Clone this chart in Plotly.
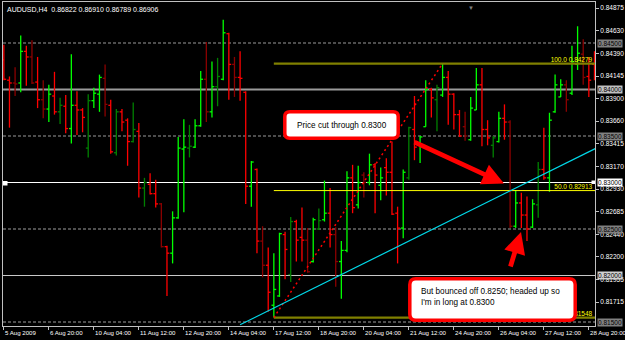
import plotly.graph_objects as go

# ---------------- data ----------------
bar_index = list(range(106))

open_ = [0.8432, 0.8410, 0.8407, 0.8407, 0.8441, 0.8435, 0.8408, 0.8389, 0.8379, 0.8393,
         0.8376, 0.8382, 0.8358, 0.8383, 0.8378, 0.8337, 0.8388, 0.8395, 0.8412, 0.8383,
         0.8332, 0.8376, 0.8367, 0.8344, 0.8355, 0.8294, 0.8298, 0.8288, 0.8277, 0.8231,
         0.8224, 0.8262, 0.8336, 0.8337, 0.8338, 0.8361, 0.8411, 0.8376, 0.8403, 0.8411,
         0.8460, 0.8427, 0.8413, 0.8397, 0.8296, 0.8314, 0.8237, 0.8211, 0.8168, 0.8178,
         0.8244, 0.8201, 0.8258, 0.8241, 0.8238, 0.8215, 0.8250, 0.8260, 0.8267, 0.8244,
         0.8215, 0.8227, 0.8305, 0.8276, 0.8308, 0.8300, 0.8319, 0.8297, 0.8316, 0.8311,
         0.8267, 0.8251, 0.8305, 0.8357, 0.8340, 0.8360, 0.8400, 0.8389, 0.8394, 0.8413,
         0.8395, 0.8373, 0.8360, 0.8346, 0.8378, 0.8405, 0.8357, 0.8340, 0.8344, 0.8369,
         0.8365, 0.8253, 0.8278, 0.8265, 0.8252, 0.8276, 0.8314, 0.8305, 0.8376, 0.8392,
         0.8405, 0.8396, 0.8427, 0.8438, 0.8414, 0.8427]

high = [0.8448, 0.8414, 0.8424, 0.8458, 0.8447, 0.8453, 0.8435, 0.8410, 0.8405, 0.8419,
        0.8391, 0.8394, 0.8438, 0.8398, 0.8380, 0.8395, 0.8402, 0.8416, 0.8427, 0.8389,
        0.8379, 0.8379, 0.8369, 0.8386, 0.8364, 0.8305, 0.8310, 0.8303, 0.8278, 0.8232,
        0.8269, 0.8349, 0.8368, 0.8362, 0.8368, 0.8420, 0.8451, 0.8430, 0.8434, 0.8475,
        0.8461, 0.8435, 0.8441, 0.8398, 0.8323, 0.8315, 0.8253, 0.8230, 0.8224, 0.8246,
        0.8247, 0.8263, 0.8260, 0.8273, 0.8251, 0.8262, 0.8272, 0.8302, 0.8294, 0.8252,
        0.8237, 0.8312, 0.8319, 0.8318, 0.8311, 0.8331, 0.8321, 0.8316, 0.8326, 0.8344,
        0.8274, 0.8314, 0.8360, 0.8393, 0.8350, 0.8410, 0.8402, 0.8405, 0.84279, 0.8420,
        0.8396, 0.8378, 0.8376, 0.8392, 0.8423, 0.8423, 0.8367, 0.8350, 0.8376, 0.8384,
        0.8367, 0.8292, 0.8289, 0.8285, 0.8282, 0.8322, 0.8359, 0.8375, 0.8416, 0.8411,
        0.8410, 0.8447, 0.8468, 0.8454, 0.8435, 0.8441]

low = [0.8410, 0.8359, 0.8393, 0.8397, 0.8404, 0.8406, 0.8380, 0.8369, 0.8365, 0.8373,
       0.8363, 0.8353, 0.8342, 0.8351, 0.8354, 0.8327, 0.8380, 0.8376, 0.8371, 0.8331,
       0.8329, 0.8355, 0.8318, 0.8343, 0.8284, 0.8274, 0.8287, 0.8273, 0.8230, 0.8178,
       0.8213, 0.8261, 0.8268, 0.8327, 0.8337, 0.8360, 0.8365, 0.8370, 0.8382, 0.8410,
       0.8389, 0.8392, 0.8388, 0.8277, 0.8274, 0.8224, 0.8198, 0.8161, 0.81548, 0.8177,
       0.8196, 0.8193, 0.8215, 0.8215, 0.8203, 0.8214, 0.8249, 0.8258, 0.8230, 0.8188,
       0.8175, 0.8225, 0.8267, 0.8272, 0.8284, 0.8297, 0.8267, 0.8281, 0.8286, 0.8265,
       0.8213, 0.8240, 0.8303, 0.8324, 0.8321, 0.8360, 0.8370, 0.8355, 0.8392, 0.8362,
       0.8357, 0.8349, 0.8345, 0.8345, 0.8378, 0.8339, 0.8340, 0.8327, 0.8343, 0.8346,
       0.8251, 0.8251, 0.8251, 0.8237, 0.8251, 0.8262, 0.8303, 0.8290, 0.8375, 0.8392,
       0.8376, 0.8394, 0.8421, 0.8405, 0.8392, 0.8410]

close = [0.8411, 0.8407, 0.8406, 0.8441, 0.8435, 0.8407, 0.8389, 0.8379, 0.8395, 0.8376,
         0.8383, 0.8358, 0.8383, 0.8378, 0.8370, 0.8388, 0.8396, 0.8413, 0.8384, 0.8333,
         0.8376, 0.8365, 0.8344, 0.8357, 0.8294, 0.8300, 0.8288, 0.8277, 0.8231, 0.8224,
         0.8262, 0.8337, 0.8338, 0.8339, 0.8361, 0.8411, 0.8376, 0.8403, 0.8414, 0.8461,
         0.8427, 0.8413, 0.8412, 0.8296, 0.8322, 0.8237, 0.8211, 0.8182, 0.8185, 0.8245,
         0.8228, 0.8258, 0.8238, 0.8238, 0.8204, 0.8260, 0.8259, 0.8267, 0.8244, 0.8215,
         0.8227, 0.8305, 0.8273, 0.8300, 0.8300, 0.8319, 0.8308, 0.8305, 0.8311, 0.8266,
         0.8251, 0.8311, 0.8359, 0.8338, 0.8349, 0.8400, 0.8391, 0.8402, 0.8413, 0.8395,
         0.8373, 0.8350, 0.8350, 0.8380, 0.8405, 0.8357, 0.8348, 0.8348, 0.8369, 0.8365,
         0.8253, 0.8278, 0.8265, 0.8250, 0.8277, 0.8314, 0.8305, 0.8367, 0.8405, 0.8405,
         0.8389, 0.8430, 0.8439, 0.8413, 0.8410, 0.8416]

# bars drawn in the darker shade on the reference chart
dim_bars = [2, 5, 7, 10, 15, 18, 20, 23, 25, 28, 33, 36, 38, 41, 46, 51, 54, 56, 59,
            64, 72, 77, 82, 87, 90, 95, 100, 103]

x_tick_bars = [0, 8, 16, 24, 32, 40, 48, 56, 64, 72, 80, 88, 96, 104]
x_tick_labels = ["5 Aug 2009", "6 Aug 20:00", "10 Aug 04:00", "11 Aug 12:00", "12 Aug 20:00",
                 "14 Aug 04:00", "17 Aug 12:00", "18 Aug 20:00", "20 Aug 04:00", "21 Aug 12:00",
                 "24 Aug 20:00", "26 Aug 04:00", "27 Aug 12:00", "28 Aug 20:00"]

y_tick_values = [0.84875, 0.84630, 0.84390, 0.84145, 0.83900, 0.83660, 0.83415, 0.83170,
                 0.82930, 0.82685, 0.82440, 0.82200, 0.81955, 0.81715]

levels = [0.845, 0.840, 0.835, 0.830, 0.825, 0.820, 0.815]

fib_pcts = [100.0, 50.0, 0.0]
fib_prices = [0.84279, 0.82913, 0.81548]
fib_start_bar = 48
fib_high_bar = 78

trend_bars = [42, 106]
trend_prices = [0.8147, 0.8339]

title_text = "AUDUSD,H4  0.86822 0.86910 0.86789 0.86906"
note1 = "Price cut through 0.8300"
note2 = "But bounced off 0.8250; headed up so<br>I'm in long at 0.8300"

# ---------------- layout helpers ----------------
W, H = 625, 340
ML, MR, MT, MB = 3, 30, 2, 14
PW, PH = W - ML - MR, H - MT - MB
FONT = "Liberation Sans"


def px(x):
    return (x - ML) / PW


def py(y):
    return (MT + PH - y) / PH


def rrect(l, t, r, b, rad):
    x0, x1 = px(l), px(r)
    y0, y1 = py(b), py(t)
    rx, ry = rad / PW, rad / PH
    return (f"M{x0+rx},{y1} L{x1-rx},{y1} Q{x1},{y1} {x1},{y1-ry} "
            f"L{x1},{y0+ry} Q{x1},{y0} {x1-rx},{y0} L{x0+rx},{y0} "
            f"Q{x0},{y0} {x0},{y0+ry} L{x0},{y1-ry} Q{x0},{y1} {x0+rx},{y1} Z")


fig = go.Figure()

# ---------------- OHLC bars ----------------
tw = 0.42


def ohlc_segments(idx):
    xs, ys = [], []
    for i in idx:
        x = bar_index[i]
        xs += [x, x, None, x - tw, x, None, x, x + tw, None]
        ys += [low[i], high[i], None, open_[i], open_[i], None, close[i], close[i], None]
    return xs, ys


groups = {
    ("up", False): "#00ff00",
    ("down", False): "#ff0000",
    ("up", True): "#008000",
    ("down", True): "#8b0000",
}
for (direction, dim), color in groups.items():
    idx = [i for i in range(len(bar_index))
           if ((close[i] >= open_[i]) == (direction == "up")) and ((i in dim_bars) == dim)]
    xs, ys = ohlc_segments(idx)
    fig.add_trace(go.Scatter(x=xs, y=ys, mode="lines", line=dict(color=color, width=1.3),
                             hoverinfo="skip", showlegend=False, connectgaps=False))

# ---------------- fibonacci ----------------
x_end = 106
for pct, price in zip(fib_pcts, fib_prices):
    if pct == 50.0:
        col, wid = "#ffff00", 1
    else:
        col, wid = "#808000", 2.2
    fig.add_trace(go.Scatter(x=[fib_start_bar, x_end], y=[price, price], mode="lines",
                             line=dict(color=col, width=wid), hoverinfo="skip", showlegend=False))
fig.add_trace(go.Scatter(
    x=[104.6] * len(fib_prices), y=fib_prices, mode="text",
    text=[f"{p:.1f} {v:.5f}" for p, v in zip(fib_pcts, fib_prices)],
    textposition="top left", textfont=dict(family=FONT, size=6.5, color="#ffff00"),
    hoverinfo="skip", showlegend=False))
fig.add_trace(go.Scatter(
    x=[fib_start_bar, fib_high_bar], y=[low[fib_start_bar], high[fib_high_bar]], mode="lines",
    line=dict(color="#ff0000", width=1.5, dash="2px,3px"), hoverinfo="skip", showlegend=False))

# ---------------- trendline ----------------
fig.add_trace(go.Scatter(x=trend_bars, y=trend_prices, mode="lines",
                         line=dict(color="#00d8e8", width=1.2), hoverinfo="skip", showlegend=False))

# ---------------- horizontal levels ----------------
level_style = {
    0.845: ("#9a9a9a", 1, "3px,2px", "#808080"),
    0.840: ("#9a9a9a", 2.2, "solid", "#c0c0c0"),
    0.835: ("#9a9a9a", 1, "3px,2px", "#808080"),
    0.830: ("#ffffff", 1.2, "solid", "#ffffff"),
    0.825: ("#6a6a6a", 1.3, "3px,2px", "#808080"),
    0.820: ("#c8c8c8", 1.2, "solid", "#d0d0d0"),
    0.815: ("#6a6a6a", 1.3, "3px,2px", "#808080"),
}
shapes = []
annotations = []
for lv in levels:
    col, wid, dash, box = level_style[lv]
    shapes.append(dict(type="line", xref="paper", x0=0, x1=1, yref="y", y0=lv, y1=lv,
                       line=dict(color=col, width=wid, dash=dash), layer="below"))
    annotations.append(dict(xref="paper", x=1, xanchor="left", xshift=2, yref="y", y=lv,
                            yanchor="middle", text=f"{lv:.5f}", showarrow=False,
                            bgcolor=box, borderpad=0,
                            font=dict(family=FONT, size=6.5, color="#000000")))

# selection handles on the 0.8300 line
shapes.append(dict(type="rect", xref="paper", yref="paper", x0=px(3), x1=px(7.5),
                   y0=py(185.5), y1=py(181), fillcolor="#ffffff", line=dict(width=0)))
shapes.append(dict(type="rect", xref="paper", yref="paper", x0=px(591.5), x1=px(595),
                   y0=py(184), y1=py(180.5), fillcolor="#ffffff", line=dict(width=0)))

# note boxes
shapes.append(dict(type="path", xref="paper", yref="paper", path=rrect(284.8, 111.8, 398.2, 138.2, 5),
                   fillcolor="#ffffff", line=dict(color="#ff0000", width=3.5), layer="above"))
shapes.append(dict(type="path", xref="paper", yref="paper", path=rrect(409.8, 278.8, 575.2, 320.2, 6),
                   fillcolor="#ffffff", line=dict(color="#ff0000", width=3.5), layer="above"))

annotations.append(dict(xref="paper", yref="paper", x=px(341.5), y=py(125), text=note1,
                        showarrow=False, xanchor="center", yanchor="middle",
                        font=dict(family=FONT, size=8.2, color="#000000")))
annotations.append(dict(xref="paper", yref="paper", x=px(419), y=py(296.5), text=note2,
                        showarrow=False, xanchor="left", yanchor="middle", align="left",
                        font=dict(family=FONT, size=8.2, color="#000000")))

# arrows
annotations.append(dict(xref="paper", yref="paper", x=px(504), y=py(183.5), text="",
                        showarrow=True, ax=-91, ay=-42, arrowhead=2, arrowsize=0.9,
                        arrowwidth=4.8, arrowcolor="#ff0000"))
annotations.append(dict(xref="paper", yref="paper", x=px(521), y=py(232), text="",
                        showarrow=True, ax=-11, ay=36, arrowhead=2, arrowsize=0.9,
                        arrowwidth=4.8, arrowcolor="#ff0000"))

# title
annotations.append(dict(xref="paper", yref="paper", x=0, y=1, xshift=2, yshift=-2,
                        xanchor="left", yanchor="top", text=title_text, showarrow=False,
                        font=dict(family=FONT, size=7, color="#ffffff")))
# chart shift marker
annotations.append(dict(xref="paper", yref="paper", x=px(476), y=1, yanchor="top",
                        text="▼", showarrow=False, font=dict(size=6, color="#808080")))

# x tick labels, left aligned after the tick like the terminal does
for b, lab in zip(x_tick_bars, x_tick_labels):
    annotations.append(dict(xref="x", x=b, yref="paper", y=0, xanchor="left", yanchor="top",
                            xshift=-1, yshift=-1, text=lab, showarrow=False,
                            font=dict(family=FONT, size=6.1, color="#ffffff")))

x_range = [-0.15, -0.15 + PW / 5.625]
y_range = [0.845 - (PH + MT - 43) / 9300, 0.845 + (43 - MT) / 9300]

fig.update_layout(
    width=W, height=H,
    margin=dict(l=ML, r=MR, t=MT, b=MB),
    paper_bgcolor="#000000", plot_bgcolor="#000000",
    showlegend=False, hovermode=False,
    shapes=shapes, annotations=annotations,
    xaxis=dict(range=x_range, showgrid=False, zeroline=False, showline=True, mirror=True,
               linecolor="#c0c0c0", linewidth=1, tickvals=x_tick_bars, ticks="outside",
               ticklen=3, tickcolor="#c0c0c0", showticklabels=False),
    yaxis=dict(range=y_range, side="right", showgrid=False, zeroline=False, showline=True,
               mirror=True, linecolor="#c0c0c0", linewidth=1, tickvals=y_tick_values,
               tickformat=".5f", ticks="outside", ticklen=3, tickcolor="#c0c0c0",
               tickfont=dict(family=FONT, size=6.5, color="#ffffff")),
)

fig.write_html("out.html")
